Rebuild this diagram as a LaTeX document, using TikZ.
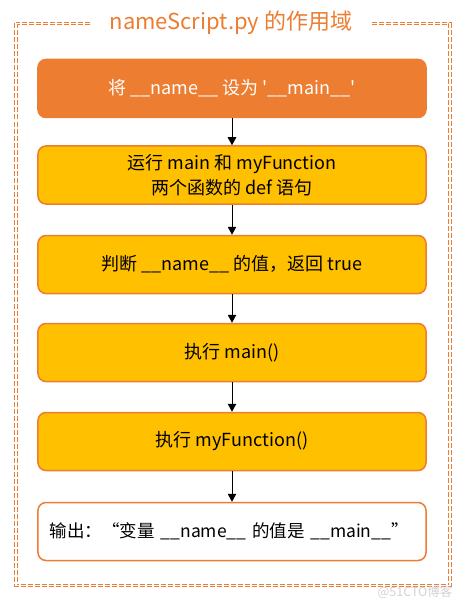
\documentclass[tikz,border=0pt]{standalone}
\usepackage{fontspec}
\setmainfont{Noto Sans CJK SC}
\usetikzlibrary{arrows.meta}
\definecolor{boxorange}{HTML}{ED7D31}
\definecolor{boxyellow}{HTML}{FFC000}

\begin{document}
\begin{tikzpicture}[x=1bp,y=-1bp,>={Triangle[length=8bp,width=8.5bp]},
  flowbox/.style={draw=boxorange,line width=1.5bp,rounded corners=8bp,fill=boxyellow,
    minimum width=388bp,minimum height=58bp,inner sep=0pt,align=center,
    font=\fontsize{18bp}{25bp}\selectfont},
  flowarrow/.style={->,line width=1bp}]
  \useasboundingbox (0,0) rectangle (468,607);
  % scope frame
  \draw[boxorange,double=white,double distance=1.8bp,line width=0.9bp,
    dash pattern=on 5bp off 2bp] (15.7,23.5) rectangle (450,585.5);
  \node[fill=white,text=boxorange,inner xsep=18bp,font=\fontsize{22bp}{26bp}\selectfont] (title) at (231,23) {nameScript.py 的作用域};
  % steps
  \node[flowbox,fill=boxorange,text=white] (setname) at (232,88.5) {将 \_\_name\_\_ 设为 \textquotesingle\_\_main\_\_\textquotesingle};
  \node[flowbox] (rundef) at (232,175) {运行 main 和 myFunction\\两个函数的 def 语句};
  \node[flowbox] (judge) at (232,264.5) {判断 \_\_name\_\_ 的值，返回 true};
  \node[flowbox] (callmain) at (232,352.5) {执行 main()};
  \node[flowbox] (callfunc) at (232,441.5) {执行 myFunction()};
  \node[flowbox,fill=white,align=left,text width=364bp,inner xsep=12bp,font=\fontsize{17.5bp}{25bp}\selectfont] (output) at (232,531.5) {\mbox{输出：“变量 \_\_name\_\_ 的值是 \_\_main\_\_”}};
  \draw[flowarrow] (setname) -- (rundef);
  \draw[flowarrow] (rundef) -- (judge);
  \draw[flowarrow] (judge) -- (callmain);
  \draw[flowarrow] (callmain) -- (callfunc);
  \draw[flowarrow] (callfunc) -- (output);
  \node[text=gray!35,font=\fontsize{12.5bp}{15bp}\selectfont] (mark) at (415,592) {@51CTO博客};
\end{tikzpicture}
\end{document}
